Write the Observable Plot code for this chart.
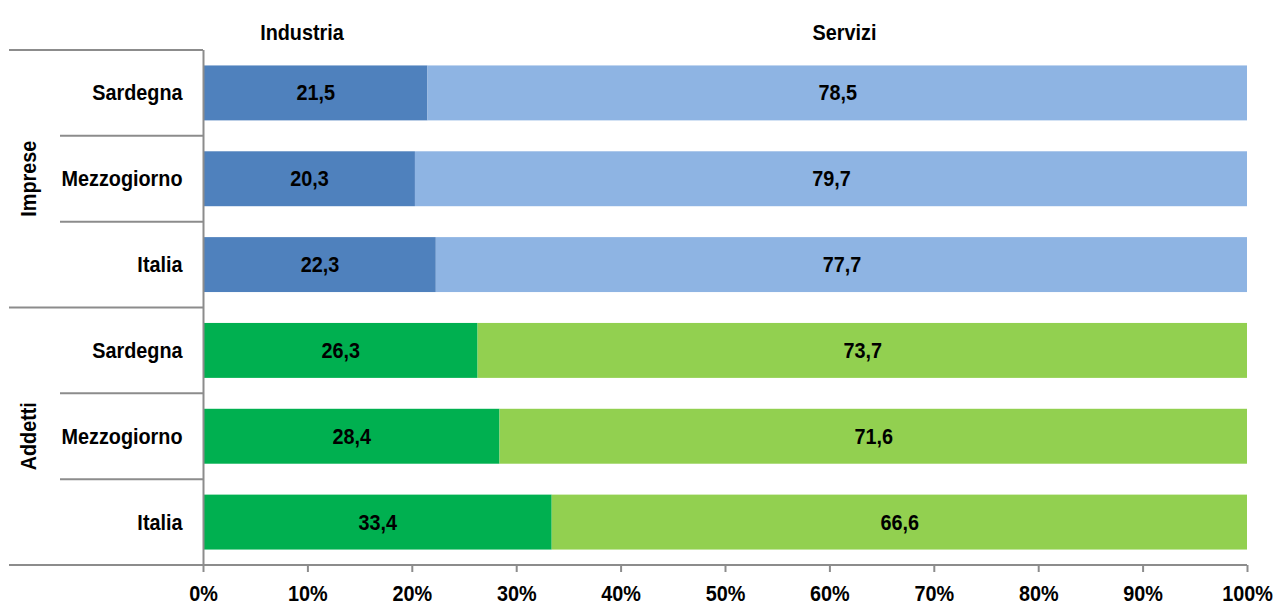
<!DOCTYPE html>
<html>
<head>
<meta charset="utf-8">
<script src="https://cdn.jsdelivr.net/npm/d3@7"></script>
<script src="https://cdn.jsdelivr.net/npm/@observablehq/plot@0.6"></script>
<style>
  html, body { margin: 0; padding: 0; background: #fff; }
  #chart svg { display: block; }
</style>
</head>
<body>
<div id="chart"></div>
<script>
// ---- data ----
const groups = ["Imprese", "Imprese", "Imprese", "Addetti", "Addetti", "Addetti"];
const territories = ["Sardegna", "Mezzogiorno", "Italia", "Sardegna", "Mezzogiorno", "Italia"];
const series = ["Industria", "Servizi"];
const industria = [21.5, 20.3, 22.3, 26.3, 28.4, 33.4];
const servizi = [78.5, 79.7, 77.7, 73.7, 71.6, 66.6];
const xTicks = [0, 10, 20, 30, 40, 50, 60, 70, 80, 90, 100];
const groupNames = ["Imprese", "Addetti"];

const palette = {
  Imprese: {Industria: "#4F81BD", Servizi: "#8EB4E3"},
  Addetti: {Industria: "#00B050", Servizi: "#92D050"}
};

const rows = groups.map((g, i) => `${g}|${territories[i]}`);
const data = [];
groups.forEach((g, i) => {
  data.push({row: rows[i], group: g, series: "Industria", value: industria[i]});
  data.push({row: rows[i], group: g, series: "Servizi", value: servizi[i]});
});

const FONT = '"Liberation Sans Narrow", "Arial Narrow", "Liberation Sans", Arial, sans-serif';
const FS = 22;
const fmt = v => d3.format(".1f")(v).replace(".", ",");

const W = 1276, H = 604;
const mL = 203, mR = 29, mT = 50, mB = 39;

const plot = Plot.plot({
  width: W,
  height: H,
  marginLeft: mL,
  marginRight: mR,
  marginTop: mT,
  marginBottom: mB,
  style: {fontFamily: FONT, fontSize: FS + "px", fontWeight: "bold", color: "#000", background: "#fff", overflow: "visible"},
  x: {domain: [0, 100], ticks: xTicks, tickFormat: d => d + "%", label: null},
  y: {domain: rows, paddingInner: 0.36, paddingOuter: 0.18, round: false, label: null},
  color: {type: "identity"},
  marks: [
    Plot.barX(data, Plot.stackX({
      x: "value", y: "row", z: "series", order: series,
      fill: d => palette[d.group][d.series]
    })),
    Plot.text(data, Plot.stackX({
      x: "value", y: "row", z: "series", order: series,
      text: d => fmt(d.value), fill: "#000", fontSize: FS, fontWeight: "bold"
    })),
    Plot.text(series, {
      x: (d, i) => [9.43, 61.4][i], text: d => d,
      frameAnchor: "top", dy: -26, fontSize: FS, fontWeight: "bold", fill: "#000"
    }),
    Plot.axisX({ticks: xTicks, tickFormat: d => d + "%", tickSize: 7, tickPadding: 13,
      stroke: "#8c8c8c", strokeWidth: 2, strokeOpacity: 1, fill: "#000", fontSize: FS, fontWeight: "bold"}),
    Plot.axisY({tickSize: 0, tickPadding: 21, tickFormat: d => d.split("|")[1],
      fill: "#000", fontSize: FS, fontWeight: "bold"}),
    Plot.ruleX([0], {stroke: "#8c8c8c", strokeWidth: 2})
  ]
});

document.getElementById("chart").appendChild(plot);

// ---- left table lines and group labels, placed through the plot's y scale ----
const ys = plot.scale("y");
const step = ys.step;
const svg = d3.select(plot);
const gLines = svg.append("g").attr("stroke", "#8c8c8c").attr("stroke-width", 2);
rows.forEach((r, i) => {
  const top = ys.apply(r) - (step - ys.bandwidth) / 2;
  const isGroupStart = i === 0 || groups[i] !== groups[i - 1];
  gLines.append("line")
    .attr("x1", isGroupStart ? 9 : 60).attr("x2", mL)
    .attr("y1", top).attr("y2", top);
});
const lastBottom = ys.apply(rows[rows.length - 1]) - (step - ys.bandwidth) / 2 + step;
gLines.append("line").attr("x1", 9).attr("x2", W - mR).attr("y1", lastBottom).attr("y2", lastBottom);

groupNames.forEach(gn => {
  const idx = groups.map((g, i) => g === gn ? i : -1).filter(i => i >= 0);
  const y0 = ys.apply(rows[idx[0]]);
  const y1 = ys.apply(rows[idx[idx.length - 1]]) + ys.bandwidth;
  const cy = (y0 + y1) / 2;
  svg.append("text")
    .attr("transform", `translate(28,${cy}) rotate(-90)`)
    .attr("text-anchor", "middle")
    .attr("dominant-baseline", "central")
    .attr("font-family", FONT).attr("font-size", FS).attr("font-weight", "bold")
    .attr("fill", "#000")
    .text(gn);
});

// condense all text horizontally to mimic a narrow typeface
svg.selectAll("text").each(function () {
  const len = this.getComputedTextLength();
  if (len > 0) {
    this.setAttribute("textLength", (len * 0.9).toFixed(2));
    this.setAttribute("lengthAdjust", "spacingAndGlyphs");
  }
});
</script>
</body>
</html>
